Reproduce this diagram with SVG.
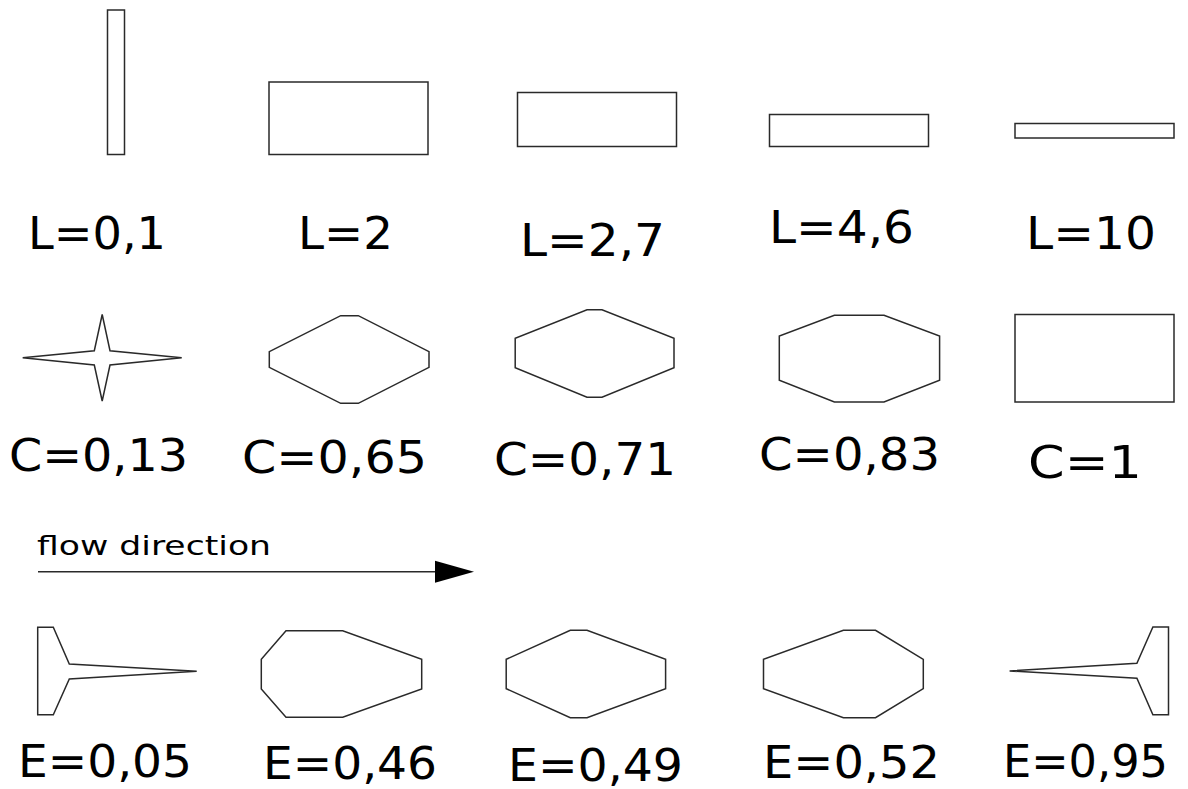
<svg xmlns="http://www.w3.org/2000/svg" width="1188" height="789" viewBox="0 0 1188 789">
<style>
.s{fill:#fff;stroke:#2a2a2a;stroke-width:1.5;stroke-linejoin:miter}
.t{font-family:"DejaVu Sans",Verdana,sans-serif;font-size:44px;fill:#000}
.f{font-family:"DejaVu Sans",Verdana,sans-serif;font-size:27px;fill:#000}
</style>
<rect width="1188" height="789" fill="#fff"/>
<g id="L01"><rect class="s" x="107.5" y="10" width="17" height="144.5"/><text class="t" x="28" y="249" textLength="138" lengthAdjust="spacingAndGlyphs">L=0,1</text></g>
<g id="L2"><rect class="s" x="269" y="82" width="159" height="72.5"/><text class="t" x="298" y="249" textLength="95" lengthAdjust="spacingAndGlyphs">L=2</text></g>
<g id="L27"><rect class="s" x="517.5" y="92.5" width="159" height="54"/><text class="t" x="520" y="256" textLength="145" lengthAdjust="spacingAndGlyphs">L=2,7</text></g>
<g id="L46"><rect class="s" x="769.5" y="114.5" width="159" height="32"/><text class="t" x="769" y="243" textLength="145" lengthAdjust="spacingAndGlyphs">L=4,6</text></g>
<g id="L10"><rect class="s" x="1015" y="123.5" width="159" height="14.5"/><text class="t" x="1026" y="249" textLength="130" lengthAdjust="spacingAndGlyphs">L=10</text></g>

<g id="C013"><polygon class="s" points="22.7,357.7 94.3,350.7 102.2,314.5 110,350.7 181.7,357.7 110,365 102.2,401 94.3,365"/><text class="t" x="9" y="471" textLength="179" lengthAdjust="spacingAndGlyphs">C=0,13</text></g>
<g id="C065"><polygon class="s" points="340.7,315.7 358.3,315.7 429,351.7 429,367.3 358.3,403.3 340.7,403.3 269.3,367.3 269.3,351.7"/><text class="t" x="242" y="473" textLength="185" lengthAdjust="spacingAndGlyphs">C=0,65</text></g>
<g id="C071"><polygon class="s" points="587,309.7 602,309.7 674,338.3 674,367.7 602,397.3 587,397.3 515.2,367.7 515.2,338.3"/><text class="t" x="494" y="475" textLength="182" lengthAdjust="spacingAndGlyphs">C=0,71</text></g>
<g id="C083"><polygon class="s" points="834.4,315.3 884,315.3 939.6,336 939.6,380.3 884,402 834.4,402 779.3,380.3 779.3,336"/><text class="t" x="759" y="470" textLength="181" lengthAdjust="spacingAndGlyphs">C=0,83</text></g>
<g id="C1"><rect class="s" x="1015" y="314.5" width="159" height="87.5"/><text class="t" x="1028" y="478" textLength="114" lengthAdjust="spacingAndGlyphs">C=1</text></g>

<g id="flow"><text class="f" x="37" y="555" textLength="234" lengthAdjust="spacingAndGlyphs">flow direction</text></g>
<g id="connectors"><line x1="38" y1="571.7" x2="436" y2="571.7" stroke="#2a2a2a" stroke-width="1.5"/><polygon points="435,560.7 474,571.7 435,582.7" fill="#000"/></g>

<g id="E005"><polygon class="s" points="37.7,627.3 53.3,627.3 69.3,664 196.7,671.3 69.3,679 53.3,714.7 37.7,714.7"/><text class="t" x="18" y="777" textLength="174" lengthAdjust="spacingAndGlyphs">E=0,05</text></g>
<g id="E046"><polygon class="s" points="286,630.7 342.7,630.7 421.7,659.3 421.7,689 342.7,717.3 286,717.3 261.3,689 261.3,659.3"/><text class="t" x="263" y="779" textLength="174" lengthAdjust="spacingAndGlyphs">E=0,46</text></g>
<g id="E049"><polygon class="s" points="570.3,630.3 587,630.3 665.6,659.3 665.6,688.7 587,717.7 570.3,717.7 506.2,688.7 506.2,659.3"/><text class="t" x="508" y="781" textLength="175" lengthAdjust="spacingAndGlyphs">E=0,49</text></g>
<g id="E052"><polygon class="s" points="843.4,630.3 875.5,630.3 923.3,659.3 923.3,688.7 875.5,717.7 843.4,717.7 763.5,688.7 763.5,659.3"/><text class="t" x="763" y="778" textLength="177" lengthAdjust="spacingAndGlyphs">E=0,52</text></g>
<g id="E095"><polygon class="s" points="1168.5,627 1152.9,627 1136.9,663.3 1009.6,671 1136.9,678.3 1152.9,714.7 1168.5,714.7"/><text class="t" x="1003" y="777" textLength="165" lengthAdjust="spacingAndGlyphs">E=0,95</text></g>
</svg>
